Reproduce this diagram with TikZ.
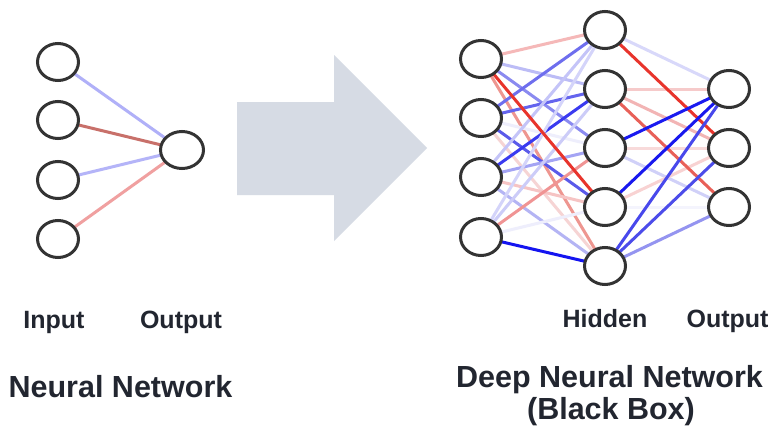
\documentclass[tikz,border=0pt]{standalone}
\usepackage{fontspec}
\setmainfont{Liberation Sans}
\usetikzlibrary{shapes.geometric,backgrounds}

% palette
\definecolor{ringcol}{HTML}{333333}
\definecolor{labelcol}{HTML}{222630}
\definecolor{arrowcol}{HTML}{D6DBE4}

\tikzset{
  neuron/.style={ellipse, draw=ringcol, line width=3pt, fill=white,
                 minimum width=41pt, minimum height=37pt, inner sep=0pt},
  wire/.style={line width=3pt},
  layerlabel/.style={font=\bfseries\fontsize{25}{30}\selectfont, text=labelcol, anchor=base},
  titlelabel/.style={font=\bfseries\fontsize{30.5}{31}\selectfont, text=labelcol, anchor=base, align=center}
}

\begin{document}
\begin{tikzpicture}[x=1pt,y=-1pt]
\useasboundingbox (0,0) rectangle (775,428);

% ---- simple network ----
\foreach \i/\y in {1/62,2/120,3/180,4/239}
  \node[neuron] (a\i) at (58,\y) {};
\node[neuron, minimum width=43pt] (ao) at (182,150) {};

% ---- deep network ----
\foreach \i/\y in {1/59,2/118,3/177,4/237}
  \node[neuron] (in\i) at (481,\y) {};
\foreach \i/\y in {1/30,2/89,3/148,4/207,5/266}
  \node[neuron] (h\i) at (605,\y) {};
\foreach \i/\y in {1/89,2/148,3/207}
  \node[neuron] (o\i) at (729,\y) {};

\begin{scope}[on background layer]
  \fill[white] (0,0) rectangle (775,428);

  % weights of the simple network
  \foreach \s/\c in {1/B0B0F8,2/C8706A,3/B4B4F8,4/F0A0A0}{
    \definecolor{wc}{HTML}{\c}
    \draw[wire, wc] (a\s.center) -- (ao.center);
  }

  % input -> hidden weights
  \foreach \s/\t/\c in {
      1/1/F5B8B8, 1/2/BCBCF6, 1/3/8A8AF0, 1/5/EE9690,
      2/1/6E6EEE, 2/2/6464EE, 2/3/EEEEFC, 2/4/5A5AEA, 2/5/F6D4D4,
      3/1/C4C4F8, 3/2/3A3AF0, 3/3/A4A4F4, 3/4/F6C4C4, 3/5/B4B4F4,
      4/1/D4D4FA, 4/2/CCCCF8, 4/3/F09494, 4/4/EEEEFC, 4/5/1414F0,
      1/4/E8342C}{
    \definecolor{wc}{HTML}{\c}
    \draw[wire, wc] (in\s.center) -- (h\t.center);
  }

  % hidden -> output weights
  \foreach \s/\t/\c in {
      1/1/D8D8FA, 2/1/F6CACA, 2/2/F2B4B4, 3/2/F8DADA, 3/3/D0D0F8,
      4/2/F8D2D2, 4/3/F4F4FD, 5/3/9494F0, 2/3/E86058, 1/2/E8342C,
      5/2/4C4CEA, 5/1/4848EC, 4/1/1818EE, 3/1/1A1AF0}{
    \definecolor{wc}{HTML}{\c}
    \draw[wire, wc] (h\s.center) -- (o\t.center);
  }
\end{scope}

% ---- big arrow between the two networks ----
\fill[arrowcol] (237,102) -- (334,102) -- (334,55) -- (427,148)
  -- (334,241) -- (334,195) -- (237,195) -- cycle;

% ---- labels ----
\node[layerlabel] (linput) at (54,328) {Input};
\node[layerlabel] (loutput) at (181,328) {Output};
\node[titlelabel] (ltitle) at (120.5,397) {Neural Network};

\node[layerlabel] (rhidden) at (605,327) {Hidden};
\node[layerlabel] (routput) at (727.5,327) {Output};
\node[titlelabel] (rtitle) at (609.5,387) {Deep Neural Network};
\node[titlelabel] (rsub) at (611,419) {(Black Box)};
\end{tikzpicture}
\end{document}
